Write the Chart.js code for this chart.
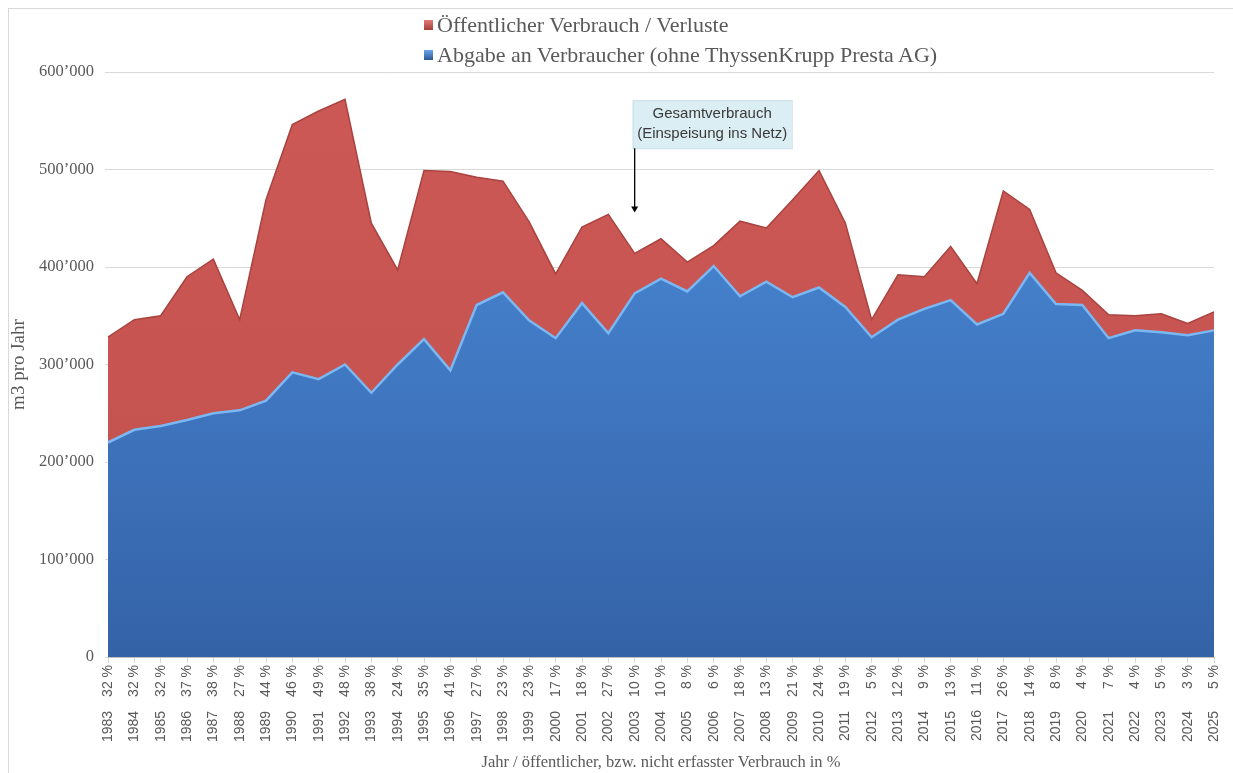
<!DOCTYPE html>
<html lang="de">
<head>
<meta charset="UTF-8">
<title>Wasserverbrauch 1983 - 2025</title>
<script src="https://cdn.jsdelivr.net/npm/chart.js"></script>
<style>
  body { margin: 0; background: #fff; }
  #frame { position: absolute; left: 8px; top: 8px; width: 1240px; height: 780px; border: 1px solid #d9d9d9; }
  #wrap { position: absolute; left: 0; top: 0; width: 1233px; height: 773px; }
  #legend { position: absolute; left: 424px; top: 10px; font-family: "Liberation Serif", serif; font-size: 22px; color: #595959; }
  .item { display: flex; align-items: center; height: 30px; white-space: nowrap; }
  .mark { width: 9px; height: 10px; margin-right: 4px; }
</style>
</head>
<body>
<div id="frame"></div>
<div id="wrap"><canvas id="chart"></canvas></div>
<div id="legend"></div>

<script>
// Jahre und Anteil öffentlicher / nicht erfasster Verbrauch (%)
const years = [1983, 1984, 1985, 1986, 1987, 1988, 1989, 1990, 1991, 1992,
               1993, 1994, 1995, 1996, 1997, 1998, 1999, 2000, 2001, 2002,
               2003, 2004, 2005, 2006, 2007, 2008, 2009, 2010, 2011, 2012,
               2013, 2014, 2015, 2016, 2017, 2018, 2019, 2020, 2021, 2022,
               2023, 2024, 2025];
const lossPct = [32, 32, 32, 37, 38, 27, 44, 46, 49, 48,
                 38, 24, 35, 41, 27, 23, 23, 17, 18, 27,
                 10, 10, 8, 6, 18, 13, 21, 24, 19, 5,
                 12, 9, 13, 11, 26, 14, 8, 4, 7, 4,
                 5, 3, 5];

// m3 pro Jahr
const abgabe = [220000, 233000, 237000, 243000, 250000, 253000, 263000, 292000, 285000, 300000,
                271000, 300000, 326000, 294000, 361000, 374000, 345000, 327000, 363000, 332000,
                373000, 388000, 375000, 401000, 370000, 385000, 369000, 379000, 359000, 328000,
                346000, 357000, 366000, 341000, 352000, 394000, 362000, 361000, 327000, 335000,
                333000, 330000, 335000];
const verluste = [108000, 113000, 113000, 147000, 158000, 93000, 206000, 254000, 275000, 272000,
                  174000, 97000, 173000, 204000, 131000, 114000, 101000, 66000, 78000, 122000,
                  41000, 41000, 30000, 21000, 77000, 55000, 100000, 120000, 86000, 18000,
                  46000, 33000, 55000, 42000, 126000, 65000, 32000, 15000, 24000, 15000,
                  19000, 12000, 19000];

const yTicks = [0, 100000, 200000, 300000, 400000, 500000, 600000];

const labels = years.map((y, i) => y + '\u2003' + String(lossPct[i]).padStart(2, '\u2007') + ' %');

function vGradient(c, top, bottom) {
    const a = c.chart.chartArea;
    if (!a) return bottom;
    const g = c.chart.ctx.createLinearGradient(0, a.top, 0, a.bottom);
    g.addColorStop(0, top);
    g.addColorStop(1, bottom);
    return g;
}

// Hinweis "Gesamtverbrauch" mit Pfeil
const notePlugin = {
    id: 'note',
    afterDatasetsDraw(chart) {
        const { ctx, scales: { x, y } } = chart;
        const px = x.getPixelForValue(years.indexOf(2003));
        const top = y.getPixelForValue(571000);
        const tip = y.getPixelForValue(456000);
        const w = 159, h = 48;
        const left = px - 2;
        ctx.save();
        ctx.fillStyle = '#dbeef4';
        ctx.fillRect(left, top, w, h);
        ctx.strokeStyle = '#c6dde6';
        ctx.lineWidth = 1;
        ctx.strokeRect(left + 0.5, top + 0.5, w, h);
        ctx.fillStyle = '#3a3a3a';
        ctx.font = '15px "Liberation Sans", sans-serif';
        ctx.textAlign = 'center';
        ctx.textBaseline = 'middle';
        ctx.fillText('Gesamtverbrauch', left + w / 2, top + 14);
        ctx.fillText('(Einspeisung ins Netz)', left + w / 2, top + 34);
        // Pfeil
        ctx.strokeStyle = '#000';
        ctx.lineWidth = 1.3;
        ctx.beginPath();
        ctx.moveTo(px, top + h);
        ctx.lineTo(px, tip - 5);
        ctx.stroke();
        ctx.fillStyle = '#000';
        ctx.beginPath();
        ctx.moveTo(px - 3.5, tip - 6);
        ctx.lineTo(px + 3.5, tip - 6);
        ctx.lineTo(px, tip);
        ctx.closePath();
        ctx.fill();
        ctx.restore();
    }
};

const gray = '#595959';

const chart = new Chart(document.getElementById('chart'), {
    type: 'line',
    data: {
        labels: labels,
        datasets: [{
            label: 'Abgabe an Verbraucher (ohne ThyssenKrupp Presta AG)',
            data: abgabe,
            fill: 'origin',
            backgroundColor: c => vGradient(c, '#4d8fdd', '#3462a7'),
            borderColor: '#7ab8f4',
            borderWidth: 2.5,
            pointRadius: 0,
            tension: 0,
            legendColors: ['#6aa6ee', '#2c5595']
        }, {
            label: 'Öffentlicher Verbrauch / Verluste',
            data: verluste,
            fill: '-1',
            backgroundColor: c => vGradient(c, '#cd5956', '#c04f4b'),
            borderColor: '#a9433f',
            borderWidth: 1.5,
            pointRadius: 0,
            tension: 0,
            legendColors: ['#e07a76', '#a63c38']
        }]
    },
    options: {
        responsive: true,
        maintainAspectRatio: false,
        animation: false,
        layout: { padding: { left: 8, top: 72, right: 19, bottom: 0 } },
        plugins: {
            legend: { display: false },
            tooltip: { enabled: false }
        },
        scales: {
            x: {
                offset: false,
                grid: { display: true, drawOnChartArea: false, color: '#d9d9d9', tickLength: 6 },
                border: { color: '#bfbfbf' },
                ticks: {
                    autoSkip: false, maxRotation: 90, minRotation: 90, padding: 2,
                    color: gray, font: { family: '"Liberation Sans", sans-serif', size: 14 }
                },
                title: {
                    display: true,
                    text: 'Jahr / öffentlicher, bzw. nicht erfasster Verbrauch in %',
                    color: gray,
                    font: { family: '"Liberation Serif", serif', size: 16.5 },
                    padding: 0
                },
                afterFit: s => { s.height = 116; }
            },
            y: {
                stacked: true,
                min: 0,
                max: 600000,
                afterBuildTicks: s => { s.ticks = yTicks.map(v => ({ value: v })); },
                grid: { color: '#d9d9d9', tickLength: 3 },
                border: { display: false },
                ticks: {
                    padding: 11,
                    color: gray,
                    font: { family: '"Liberation Serif", serif', size: 16.5 },
                    callback: v => v === 0 ? '0' : String(v).replace(/\B(?=(\d{3})+(?!\d))/g, '\u2019')
                },
                title: {
                    display: true,
                    text: 'm3 pro Jahr',
                    color: gray,
                    font: { family: '"Liberation Serif", serif', size: 19 },
                    padding: { top: 0, bottom: 2 }
                },
                afterFit: s => { s.width = 100; }
            }
        }
    },
    plugins: [notePlugin]
});

// Legende in zwei Zeilen, rote Reihe oben
const legend = document.getElementById('legend');
chart.data.datasets.slice().reverse().forEach(ds => {
    const row = document.createElement('div');
    row.className = 'item';
    const m = document.createElement('span');
    m.className = 'mark';
    m.style.background = 'linear-gradient(' + ds.legendColors[0] + ',' + ds.legendColors[1] + ')';
    row.appendChild(m);
    row.appendChild(document.createTextNode(ds.label));
    legend.appendChild(row);
});
</script>
</body>
</html>
